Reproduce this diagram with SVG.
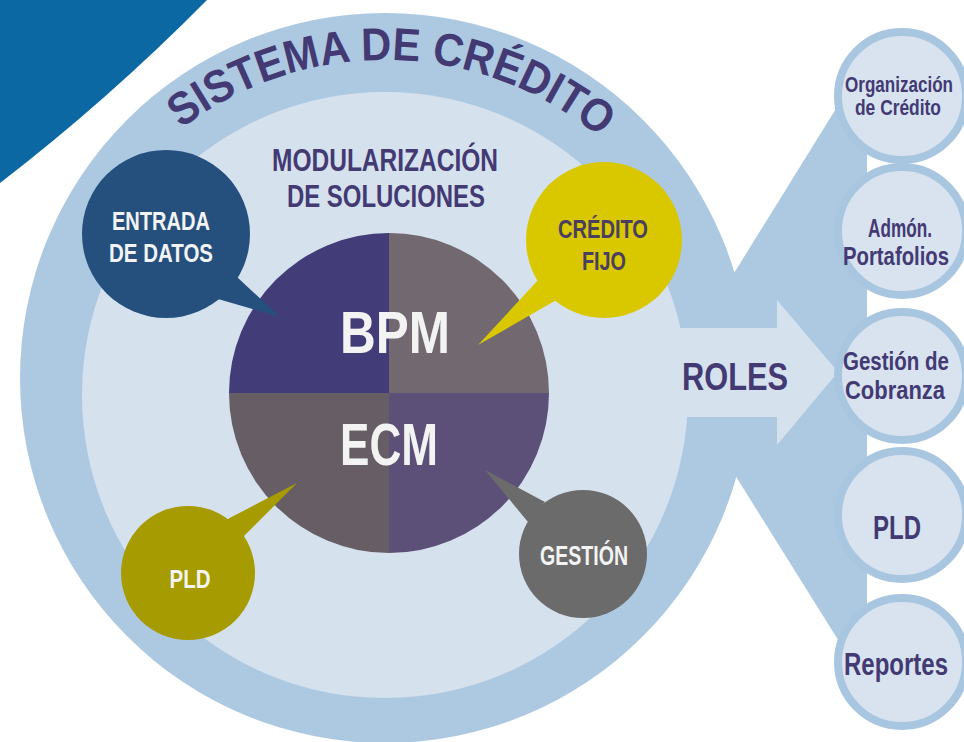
<svg xmlns="http://www.w3.org/2000/svg" width="964" height="742" viewBox="0 0 964 742">
<style>
text{font-family:'Liberation Sans Narrow','Liberation Sans',Arial,sans-serif;font-weight:bold;text-anchor:middle}
.pur{fill:#433a74}
.wht{fill:#f3f3f3}
.yel{fill:#4a3f5e}
.rc{fill:#d8e3ef;stroke:#a9c6e0;stroke-width:8}
</style>
<defs>
<path id="titleArc" d="M94,228 A336,336 0 0 1 676,228"/>
</defs>
<rect width="964" height="742" fill="#ffffff"/>
<path id="corner" d="M0,0 L207,0 Q108,100 0,183 Z" fill="#0b68a3"/>
<g id="background">
<circle cx="385" cy="378" r="365" fill="#adc9e2"/>
<polygon points="700,328 850,86 867,86 867,659 850,659 700,419" fill="#adc9e2"/>
<circle cx="385" cy="395" r="303" fill="#d6e1ee"/>
</g>
<g id="connectors">
<polygon id="roles-arrow" points="640,328 777,328 777,300 838,372 777,445 777,417 640,417" fill="#d6e1ee"/>
</g>
<g id="title">
<text class="pur" font-size="46"><textPath href="#titleArc" startOffset="51%" textLength="452" lengthAdjust="spacingAndGlyphs">SISTEMA DE CRÉDITO</textPath></text>
<text class="pur" x="385" y="171" font-size="31" textLength="226" lengthAdjust="spacingAndGlyphs">MODULARIZACIÓN</text>
<text class="pur" x="386" y="207" font-size="31" textLength="198" lengthAdjust="spacingAndGlyphs">DE SOLUCIONES</text>
</g>
<g id="core">
<path d="M389,393 L229,393 A160,160 0 0 1 389,233 Z" fill="#423d78"/>
<path d="M389,393 L389,233 A160,160 0 0 1 549,393 Z" fill="#716870"/>
<path d="M389,393 L549,393 A160,160 0 0 1 389,553 Z" fill="#5d5078"/>
<path d="M389,393 L389,553 A160,160 0 0 1 229,393 Z" fill="#675d64"/>
<text class="wht" x="395" y="353" font-size="60" textLength="110" lengthAdjust="spacingAndGlyphs">BPM</text>
<text class="wht" x="389" y="465" font-size="59" textLength="98" lengthAdjust="spacingAndGlyphs">ECM</text>
</g>
<g id="entrada">
<circle cx="166" cy="234" r="84" fill="#25507e"/>
<polygon points="237,277 280,317 218,299" fill="#25507e"/>
<text class="wht" x="161" y="230" font-size="25" textLength="98" lengthAdjust="spacingAndGlyphs">ENTRADA</text>
<text class="wht" x="161" y="262" font-size="25" textLength="104" lengthAdjust="spacingAndGlyphs">DE DATOS</text>
</g>
<g id="credito">
<circle cx="604" cy="240" r="78" fill="#d9c700"/>
<polygon points="540,278 478,345 560,298" fill="#d9c700"/>
<text class="yel" x="603" y="238" font-size="25" textLength="90" lengthAdjust="spacingAndGlyphs">CRÉDITO</text>
<text class="yel" x="604" y="270" font-size="25" textLength="44" lengthAdjust="spacingAndGlyphs">FIJO</text>
</g>
<g id="pld-bubble">
<circle cx="188" cy="573" r="67" fill="#a69b00"/>
<polygon points="222,522 297,483 240,540" fill="#a69b00"/>
<text class="wht" x="190" y="588" font-size="25" textLength="41" lengthAdjust="spacingAndGlyphs">PLD</text>
</g>
<g id="gestion">
<circle cx="583" cy="554" r="64" fill="#6b6b6b"/>
<polygon points="545,502 485,470 528,522" fill="#6b6b6b"/>
<text class="wht" x="584" y="565" font-size="27" textLength="88" lengthAdjust="spacingAndGlyphs">GESTIÓN</text>
</g>
<text id="roles" class="pur" x="735" y="390" font-size="39" textLength="106" lengthAdjust="spacingAndGlyphs">ROLES</text>
<g id="r-organizacion">
<circle class="rc" cx="902" cy="96" r="64"/>
<text class="pur" x="899" y="92" font-size="22" textLength="108" lengthAdjust="spacingAndGlyphs">Organización</text>
<text class="pur" x="898" y="115" font-size="22" textLength="86" lengthAdjust="spacingAndGlyphs">de Crédito</text>
</g>
<g id="r-admon">
<circle class="rc" cx="902" cy="231" r="64"/>
<text class="pur" x="900" y="237" font-size="26" textLength="64" lengthAdjust="spacingAndGlyphs">Admón.</text>
<text class="pur" x="896" y="265" font-size="26" textLength="106" lengthAdjust="spacingAndGlyphs">Portafolios</text>
</g>
<g id="r-gestion">
<circle class="rc" cx="902" cy="376" r="64"/>
<text class="pur" x="896" y="370" font-size="26" textLength="106" lengthAdjust="spacingAndGlyphs">Gestión de</text>
<text class="pur" x="895" y="399" font-size="26" textLength="100" lengthAdjust="spacingAndGlyphs">Cobranza</text>
</g>
<g id="r-pld">
<circle class="rc" cx="902" cy="515" r="64"/>
<text class="pur" x="897" y="539" font-size="33" textLength="48" lengthAdjust="spacingAndGlyphs">PLD</text>
</g>
<g id="r-reportes">
<circle class="rc" cx="902" cy="662" r="64"/>
<text class="pur" x="896" y="675" font-size="31" textLength="104" lengthAdjust="spacingAndGlyphs">Reportes</text>
</g>
</svg>
